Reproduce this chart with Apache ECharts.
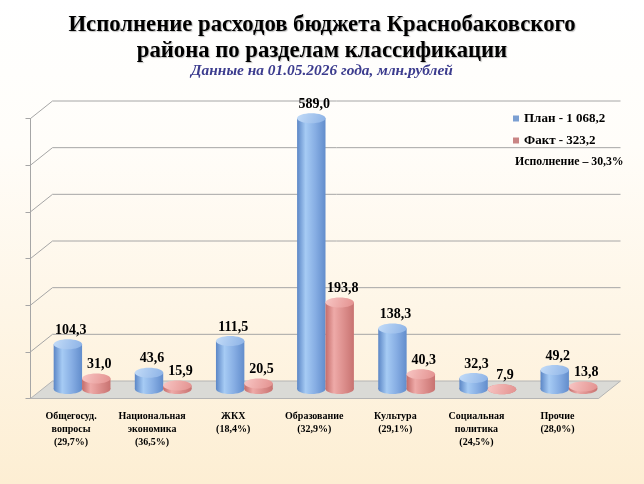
<!DOCTYPE html>
<html lang="ru">
<head>
    <meta charset="UTF-8">
    <title>Исполнение расходов бюджета</title>
    <style>
        html, body { margin: 0; padding: 0; }
        .chart { width: 644px; height: 484px; }
    </style>
</head>
<body>
    <div class="chart"></div>
    <script src="https://cdn.jsdelivr.net/npm/echarts@6/dist/echarts.min.js"></script>
    <script>
        const categories = [
            'Общегосуд.\nвопросы\n(29,7%)',
            'Национальная\nэкономика\n(36,5%)',
            'ЖКХ\n(18,4%)',
            'Образование\n(32,9%)',
            'Культура\n(29,1%)',
            'Социальная\nполитика\n(24,5%)',
            'Прочие\n(28,0%)'
        ]
        const planValues = [104.3, 43.6, 111.5, 589.0, 138.3, 32.3, 49.2]
        const factValues = [31.0, 15.9, 20.5, 193.8, 40.3, 7.9, 13.8]
        const yTicks = [0, 100, 200, 300, 400, 500, 600]
        const planName = 'План - 1 068,2'
        const factName = 'Факт - 323,2'
        const execText = 'Исполнение – 30,3%'

        const serif = '"Liberation Serif", "Times New Roman", serif'
        // depth of the fake 3d box relative to the bar plane
        const depthX = 11
        const frontDY = 5.5
        const backDY = 12
        const baseLift = 4

        const palettes = {
            plan: {
                body: ['#5b86c6', '#a6cbf4', '#86ade3', '#628dcc'],
                top: ['#8cb2e6', '#c3dcf8']
            },
            fact: {
                body: ['#c46c6a', '#eeaaa8', '#dc8e8c', '#c87371'],
                top: ['#e3918f', '#f8c6c4']
            }
        }

        function hGrad (c) {
            return new echarts.graphic.LinearGradient(0, 0, 1, 0, [
                { offset: 0, color: c[0] },
                { offset: 0.3, color: c[1] },
                { offset: 0.65, color: c[2] },
                { offset: 1, color: c[3] }
            ])
        }

        function fmt (v) {
            return v.toFixed(1).replace('.', ',')
        }

        function cylinder (side) {
            return function (params, api) {
                const idx = api.value(0)
                const val = api.value(1)
                const band = api.size([1, 0])[0]
                const w = band * 0.35
                const c = api.coord([idx, 0])
                const t = api.coord([idx, val])
                const base = Math.max(c[1] - baseLift, t[1])
                const x = side === 'plan' ? c[0] - w : c[0]
                const rx = w / 2
                const ry = 5
                const cx = x + rx
                const pal = palettes[side]
                return {
                    type: 'group',
                    children: [
                        {
                            type: 'ellipse',
                            shape: { cx, cy: base, rx, ry },
                            style: { fill: hGrad(pal.body) }
                        },
                        {
                            type: 'rect',
                            shape: { x, y: t[1], width: w, height: base - t[1] },
                            style: { fill: hGrad(pal.body) }
                        },
                        {
                            type: 'ellipse',
                            shape: { cx, cy: t[1], rx, ry },
                            style: {
                                fill: new echarts.graphic.LinearGradient(0, 0, 1, 1, [
                                    { offset: 0, color: pal.top[1] },
                                    { offset: 1, color: pal.top[0] }
                                ])
                            }
                        },
                        {
                            type: 'text',
                            x: cx + 3,
                            y: t[1] - ry - 9,
                            style: {
                                text: fmt(val),
                                fill: '#000',
                                font: 'bold 14px ' + serif,
                                align: 'center',
                                verticalAlign: 'middle'
                            }
                        }
                    ]
                }
            }
        }

        function frame (params, api) {
            const v = api.value(1)
            const band = api.size([1, 0])[0]
            const p0 = api.coord([0, v])
            const p1 = api.coord([categories.length - 1, v])
            const L = p0[0] - band / 2
            const R = p1[0] + band / 2
            const y = p0[1]
            const line = { stroke: '#a6a6a6', lineWidth: 1 }
            const children = []
            if (v === 0) {
                children.push({
                    type: 'polygon',
                    shape: { points: [[L - depthX, y + frontDY], [R - depthX, y + frontDY], [R + depthX, y - backDY], [L + depthX, y - backDY]] },
                    style: { fill: '#dadad6', stroke: '#b4b4b4', lineWidth: 1 }
                })
            } else {
                children.push({
                    type: 'line',
                    shape: { x1: L + depthX, y1: y - backDY, x2: R + depthX, y2: y - backDY },
                    style: line
                })
                children.push({
                    type: 'line',
                    shape: { x1: L - depthX, y1: y + frontDY, x2: L + depthX, y2: y - backDY },
                    style: line
                })
            }
            return { type: 'group', children }
        }

        const chart = echarts.init(document.querySelector('.chart'))
        chart.setOption({
            backgroundColor: new echarts.graphic.LinearGradient(0, 0, 0, 1, [
                { offset: 0, color: '#ffffff' },
                { offset: 0.3, color: '#fffdf9' },
                { offset: 1, color: '#fdeed3' }
            ]),
            animation: false,
            title: {
                text: 'Исполнение расходов бюджета Краснобаковского\nрайона по разделам классификации',
                subtext: 'Данные на 01.05.2026 года, млн.рублей',
                left: 'center',
                top: 7,
                itemGap: 0,
                textStyle: {
                    fontFamily: serif,
                    fontWeight: 'bold',
                    fontSize: 22.7,
                    lineHeight: 26,
                    color: '#000',
                    textShadowColor: 'rgba(0,0,0,0.25)',
                    textShadowOffsetX: 1,
                    textShadowOffsetY: 1,
                    textShadowBlur: 1
                },
                subtextStyle: {
                    fontFamily: serif,
                    fontWeight: 'bold',
                    fontStyle: 'italic',
                    fontSize: 15.4,
                    color: '#3c3c8e'
                }
            },
            legend: {
                orient: 'vertical',
                left: 508,
                top: 107,
                itemWidth: 6,
                itemHeight: 6,
                itemGap: 9,
                data: [
                    { name: planName, icon: 'rect', itemStyle: { color: '#7b9fd2' } },
                    { name: factName, icon: 'rect', itemStyle: { color: '#c98584' } }
                ],
                textStyle: { fontFamily: serif, fontWeight: 'bold', fontSize: 13, color: '#000' }
            },
            graphic: [{
                type: 'text',
                left: 515,
                top: 156,
                style: { text: execText, font: 'bold 11.8px ' + serif, fill: '#000' }
            }],
            grid: [
                { left: 41.5, right: 34.5, top: 113, bottom: 91 },
                { left: 30.5, right: 46, top: 118.5, bottom: 85.5 }
            ],
            xAxis: [
                { gridIndex: 0, type: 'category', data: categories, show: false },
                {
                    gridIndex: 1,
                    type: 'category',
                    data: categories,
                    axisLine: { lineStyle: { color: '#a6a6a6' } },
                    axisTick: { length: 5, lineStyle: { color: '#a6a6a6' } },
                    axisLabel: {
                        interval: 0,
                        margin: 12,
                        fontFamily: serif,
                        fontWeight: 'bold',
                        fontSize: 10,
                        lineHeight: 12.7,
                        color: '#000'
                    }
                }
            ],
            yAxis: [
                { gridIndex: 0, type: 'value', min: 0, max: 600, interval: 100, show: false },
                {
                    gridIndex: 1,
                    type: 'value',
                    min: 0,
                    max: 600,
                    interval: 100,
                    axisLine: { show: true, lineStyle: { color: '#a6a6a6' } },
                    axisTick: { show: true, length: 5, lineStyle: { color: '#a6a6a6' } },
                    axisLabel: { show: false },
                    splitLine: { show: false }
                }
            ],
            series: [
                {
                    type: 'custom',
                    name: 'frame',
                    xAxisIndex: 0,
                    yAxisIndex: 0,
                    silent: true,
                    renderItem: frame,
                    data: yTicks.map(v => [0, v])
                },
                {
                    type: 'custom',
                    name: planName,
                    xAxisIndex: 0,
                    yAxisIndex: 0,
                    itemStyle: { color: '#7b9fd2' },
                    renderItem: cylinder('plan'),
                    data: planValues.map((v, i) => [i, v])
                },
                {
                    type: 'custom',
                    name: factName,
                    xAxisIndex: 0,
                    yAxisIndex: 0,
                    itemStyle: { color: '#c98584' },
                    renderItem: cylinder('fact'),
                    data: factValues.map((v, i) => [i, v])
                }
            ]
        })
    </script>
</body>
</html>
